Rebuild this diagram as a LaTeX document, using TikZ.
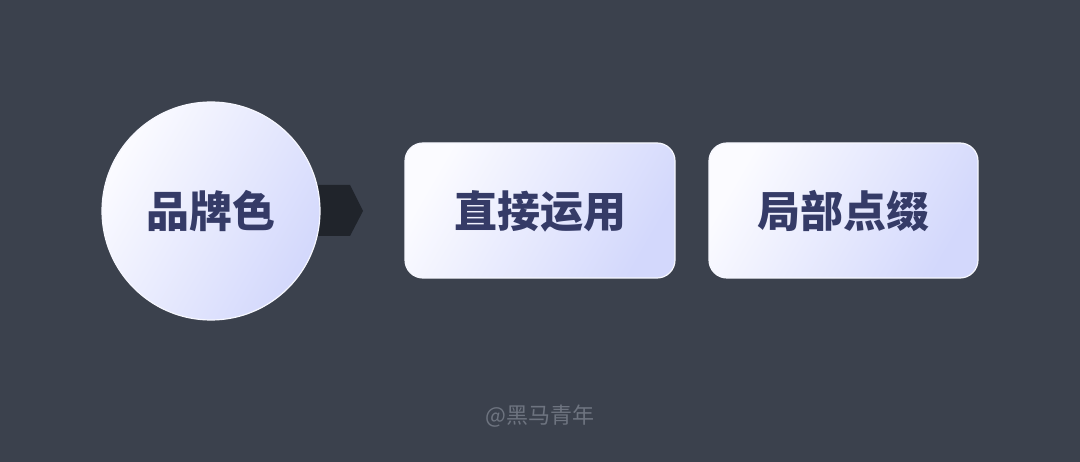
\documentclass[tikz,border=0pt]{standalone}
\usepackage{fontspec}
\newfontfamily\cjk{Noto Sans CJK SC Black}
\newfontfamily\cjkreg{Noto Sans CJK SC}
\definecolor{bg}{HTML}{3B414D}
\definecolor{lite}{HTML}{FBFBFF}
\definecolor{lav}{HTML}{D3D8FC}
\definecolor{ink}{HTML}{353B67}
\definecolor{arr}{HTML}{20242B}
\definecolor{wm}{HTML}{6E7480}
\tikzset{
  card/.style={rounded corners=18pt, shading=axis, left color=lite, right color=lav, shading angle=60, draw=white!80!lav, line width=1.2pt},
  label/.style={font=\cjk\fontsize{43}{46}\selectfont, text=ink},
}
\begin{document}
\begin{tikzpicture}[x=1pt,y=-1pt]
\fill[bg] (0,0) rectangle (1080,462);
\useasboundingbox (0,0) rectangle (1080,462);
% arrow tab
\coordinate (c) at (211,211);
\fill[arr] (300,185) -- (350,185) -- (363,211) -- (350,236) -- (300,236) -- cycle;
% circle
\shade[shading=axis, left color=lite, right color=lav, shading angle=60, draw=white!80!lav, line width=1.2pt] (c) circle (109);
\node[label] (brand) at (c) {品牌色};
% cards
\shade[card] (405,143) rectangle (675,278);
\node[label] (direct) at (540,211) {直接运用};
\shade[card] (709,143) rectangle (978,278);
\node[label] (accent) at (843.5,211) {局部点缀};
% watermark
\node[font=\cjkreg\fontsize{22}{24}\selectfont, text=wm] (mark) at (540,416) {@黑马青年};
\end{tikzpicture}
\end{document}
